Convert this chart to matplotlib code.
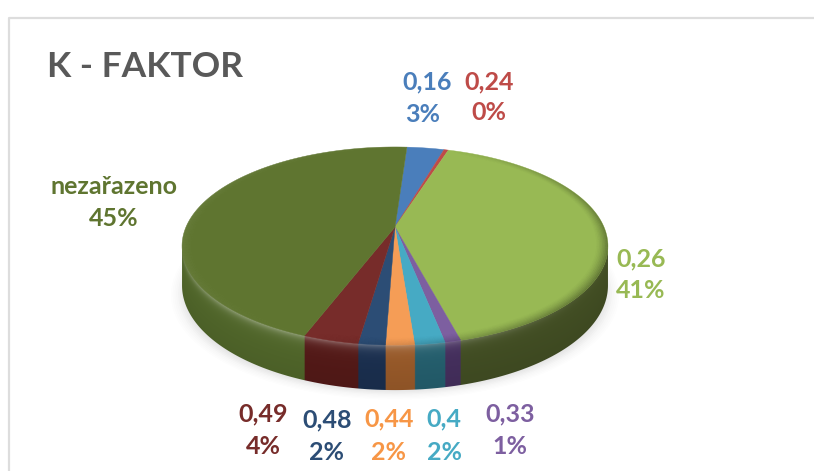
#!/usr/bin/env python3
import matplotlib
matplotlib.use('Agg')
import matplotlib.pyplot as plt
import numpy as np
from matplotlib.collections import PolyCollection
from matplotlib.colors import to_rgb
from matplotlib.patches import Polygon

# clockwise from just right of the top
categories = ['0,16', '0,24', '0,26', '0,33', '0,4', '0,44', '0,48', '0,49', 'nezařazeno']
shares = [3.4, 0.4, 41.0, 1.0, 1.9, 1.8, 1.7, 3.5, 45.3]
pct_labels = ['3%', '0%', '41%', '1%', '2%', '2%', '2%', '4%', '45%']
top_colors = ['#4A7EBB', '#BE4B48', '#98B954', '#7D5FA0', '#46AAC4',
              '#F59D56', '#2C4D75', '#772C2A', '#5F7530']
side_colors = ['#2C4D75', '#772C2A', '#434F24', '#46305F', '#25606F',
               '#9A5B2A', '#1B3050', '#551A18', '#52682B']
text_colors = ['#4A7EBB', '#BE4B48', '#98B954', '#7D5FA0', '#46AAC4',
               '#F79646', '#2C4D75', '#772C2A', '#5F7530']
label_pos = [(427, 82, 423, 114), (489, 82, 489, 113), (641, 259, 641, 291),
             (510, 414, 510, 447), (444, 419, 444, 452), (389, 419, 389, 452),
             (327, 420, 327, 452), (263, 414, 263, 447), (114, 187, 114, 219)]

START_DEG = 3.9
CX, CY, A, B, K = 395.0, 227.0, 209.0, 95.4, 0.192
# the disc outline is widest at these angles, the wall runs between them
WALL_FROM, WALL_TO = 101.0, 259.0


def project(r, deg):
    """Disc point (radius, degrees clockwise from the back) to pixels."""
    a = np.radians(deg)
    u, v = r * np.sin(a), r * np.cos(a)
    w = 1 + K * v
    return CX + A * u / w, CY - B * v / w


def depth(deg):
    return 38 - 7 * np.cos(np.radians(deg))


fig = plt.figure(figsize=(8.14, 4.71), dpi=100)
ax = fig.add_axes([0, 0, 1, 1])

# chart frame
ax.plot([8.5, 8.5, 814], [471, 17.5, 17.5], color='#DDDDDD', lw=1.6, zorder=1)

# soft shadow below the disc
circle = np.linspace(0, 360, 241)
for grow, alpha in zip(np.linspace(1.05, 0.96, 12), [0.012] * 4 + [0.022] * 8):
    x, y = project(grow, circle)
    ax.fill(x, y + 47, color='#555555', alpha=alpha, lw=0, zorder=2)

edges = START_DEG + np.concatenate([[0], np.cumsum(shares)]) * 3.6

# side wall as one image, columns follow the front edge of the disc
front = np.linspace(WALL_FROM, WALL_TO, 800)
front_x, front_y = project(1, front)
order = np.argsort(front_x)
sx, sy, sa = front_x[order], front_y[order], front[order]
ss = 3
cols_x = np.arange(170, 620, 1 / ss)
rows_y = np.arange(230, 400, 1 / ss)
top_y = np.interp(cols_x, sx, sy)
col_ang = np.interp(cols_x, sx, sa)
col_depth = depth(col_ang)
slice_idx = np.clip(np.searchsorted(edges, col_ang) - 1, 0, len(shares) - 1)
base = np.array([to_rgb(c) for c in side_colors])[slice_idx]
t = (rows_y[:, None] - top_y[None, :]) / col_depth[None, :]
# highlight peaks at the front left and dies out towards both ends
light = np.clip(np.cos(np.radians(col_ang - 212)), 0, 1) ** 1.5
glow = np.exp(-np.clip(t, 0, None) / 0.09) * (0.03 + 0.34 * light)
img = base[None, :, :] + (1 - base[None, :, :]) * glow[:, :, None]
img = img * (1 - 0.08 * np.clip(t, 0, 1))[:, :, None]
im = ax.imshow(np.clip(img, 0, 1), extent=(cols_x[0], cols_x[-1], rows_y[-1], rows_y[0]),
               aspect='auto', interpolation='bilinear', zorder=3)
wall = np.linspace(WALL_FROM, WALL_TO, 361)
wx, wy = project(1, wall)
wd = depth(wall)
wall_poly = np.c_[np.r_[wx, wx[::-1]], np.r_[wy + wd, wy[::-1] - 4]]
im.set_clip_path(Polygon(wall_poly, transform=ax.transData))

# top surface
for i in range(len(shares)):
    ang = np.linspace(edges[i], edges[i + 1], max(3, int(shares[i] * 3.6)))
    x, y = project(1, ang)
    ax.fill(np.r_[CX, x], np.r_[CY, y], color=top_colors[i], lw=0.3, zorder=4)

# bevel on the rim: darker at the right, slightly lighter at the back
rings = np.linspace(0.94, 1.0, 10)
ang = np.linspace(0, 360, 241)
polys, cols = [], []
for r0, r1 in zip(rings[:-1], rings[1:]):
    strength = ((r0 - rings[0]) / (rings[-1] - rings[0])) ** 1.5
    for a0, a1 in zip(ang[:-1], ang[1:]):
        mid = np.radians((a0 + a1) / 2)
        shade = np.sin(mid) * 0.75 - np.cos(mid) * 0.25
        x0, y0 = project(r0, a0)
        x1, y1 = project(r0, a1)
        x2, y2 = project(r1, a1)
        x3, y3 = project(r1, a0)
        polys.append([(x0, y0), (x1, y1), (x2, y2), (x3, y3)])
        if shade > 0:
            cols.append((0, 0, 0, min(0.4, 0.5 * shade) * strength))
        else:
            cols.append((1, 1, 1, min(0.06, 0.08 * -shade) * strength))
ax.add_collection(PolyCollection(polys, facecolors=cols, edgecolors='none', zorder=5))

# labels
ax.text(47, 67, 'K - FAKTOR', family='Lato', weight='bold', fontsize=25.5,
        color='#595959', ha='left', va='center', zorder=6)
for cat, pct, col, (cx, cy, px, py) in zip(categories, pct_labels, text_colors, label_pos):
    ax.text(cx, cy, cat, family='Lato', weight='bold', fontsize=18, color=col,
            ha='center', va='center', zorder=6)
    ax.text(px, py, pct, family='Lato', weight='bold', fontsize=18, color=col,
            ha='center', va='center', zorder=6)

ax.set_xlim(0, 814)
ax.set_ylim(471, 0)
ax.axis('off')
fig.savefig('out.png', dpi=100, facecolor='white')
